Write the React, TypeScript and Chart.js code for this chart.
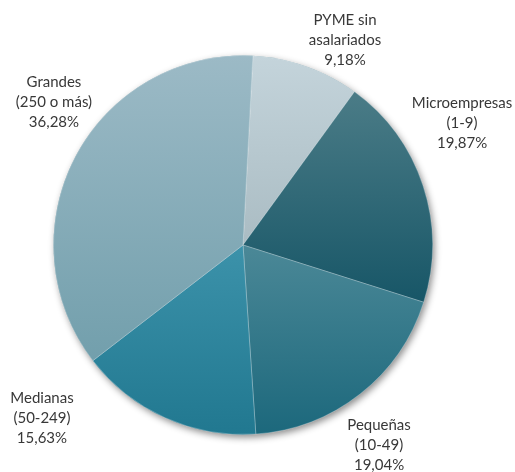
import React, { useEffect, useRef } from "react";
import { Chart, registerables } from "chart.js";

Chart.register(...registerables);

const categories: string[][] = [
  ["PYME sin", "asalariados"],
  ["Microempresas", "(1-9)"],
  ["Pequeñas", "(10-49)"],
  ["Medianas", "(50-249)"],
  ["Grandes", "(250 o más)"],
];
const shares: number[] = [9.18, 19.87, 19.04, 15.63, 36.28];
const percentLabels: string[] = ["9,18%", "19,87%", "19,04%", "15,63%", "36,28%"];

const topColors = ["#c4d4db", "#4b7c87", "#4b8897", "#3c92aa", "#9cbac6"];
const bottomColors = ["#aabcc3", "#175667", "#1c687c", "#217890", "#729fac"];
// label anchor offsets relative to pie centre, in units of the radius
const labelOffsets: [number, number][] = [
  [0.537, -1.079],
  [1.153, -0.642],
  [0.716, 1.053],
  [-1.058, 0.911],
  [-0.995, -0.753],
];
const ROTATION = 3;

function pieGeom(chart: any) {
  const a = chart.chartArea;
  const cx = (a.left + a.right) / 2;
  const cy = (a.top + a.bottom) / 2;
  const r = Math.min(a.right - a.left, a.bottom - a.top) / 2;
  return { cx, cy, r };
}

function sliceGradient(ctx: any) {
  const chart = ctx.chart;
  const i = ctx.dataIndex;
  if (!chart.chartArea || i === undefined) return topColors[i ?? 0];
  const { cx, cy, r } = pieGeom(chart);
  const total = shares.reduce((s, v) => s + v, 0);
  let start = -Math.PI / 2 + (ROTATION * Math.PI) / 180;
  for (let k = 0; k < i; k++) start += (shares[k] / total) * Math.PI * 2;
  const end = start + (shares[i] / total) * Math.PI * 2;
  const ys = [cy, cy + r * Math.sin(start), cy + r * Math.sin(end)];
  const contains = (ang: number) => {
    let a = ang;
    while (a < start) a += Math.PI * 2;
    return a <= end;
  };
  if (contains(-Math.PI / 2)) ys.push(cy - r);
  if (contains(Math.PI / 2)) ys.push(cy + r);
  const y0 = Math.min(...ys);
  const y1 = Math.max(...ys);
  const g = chart.ctx.createLinearGradient(0, y0, 0, y1);
  g.addColorStop(0, topColors[i]);
  g.addColorStop(1, bottomColors[i]);
  return g;
}

const shadowPlugin = {
  id: "pieShadow",
  beforeDatasetsDraw(chart: any) {
    const { cx, cy, r } = pieGeom(chart);
    const c = chart.ctx;
    c.save();
    c.shadowColor = "rgba(0,0,0,0.45)";
    c.shadowBlur = 7;
    c.shadowOffsetX = 2;
    c.shadowOffsetY = 3;
    c.fillStyle = "#6f9aa8";
    c.beginPath();
    c.arc(cx, cy, r - 0.5, 0, Math.PI * 2);
    c.fill();
    c.restore();
  },
};

const labelPlugin = {
  id: "sliceLabels",
  afterDraw(chart: any) {
    const { cx, cy, r } = pieGeom(chart);
    const c = chart.ctx;
    c.save();
    c.font = "15px Lato";
    c.fillStyle = "#383838";
    c.textAlign = "center";
    c.textBaseline = "middle";
    const lh = 20;
    categories.forEach((lines, i) => {
      const all = [...lines, percentLabels[i]];
      const x = cx + labelOffsets[i][0] * r;
      const y = cy + labelOffsets[i][1] * r;
      const y0 = y - ((all.length - 1) * lh) / 2;
      all.forEach((t, j) => c.fillText(t, x, y0 + j * lh));
    });
    c.restore();
  },
};

export default function App() {
  const ref = useRef<HTMLCanvasElement>(null);
  useEffect(() => {
    if (!ref.current) return;
    const chart = new Chart(ref.current, {
      type: "pie",
      data: {
        labels: categories.map((c) => c.join(" ")),
        datasets: [
          {
            data: shares,
            backgroundColor: sliceGradient as any,
            borderColor: "rgba(255,255,255,0.25)",
            borderWidth: 1,
          },
        ],
      },
      options: {
        responsive: false,
        animation: false,
        rotation: ROTATION,
        layout: { padding: { top: 55, bottom: 37, left: 53, right: 82 } },
        plugins: {
          legend: { display: false },
          tooltip: { enabled: false },
        },
      },
      plugins: [shadowPlugin, labelPlugin],
    });
    return () => chart.destroy();
  }, []);
  return (
    <div style={{ position: "absolute", left: 0, top: 0, width: 515, height: 472, background: "#fff" }}>
      <canvas ref={ref} width={515} height={472} />
    </div>
  );
}
